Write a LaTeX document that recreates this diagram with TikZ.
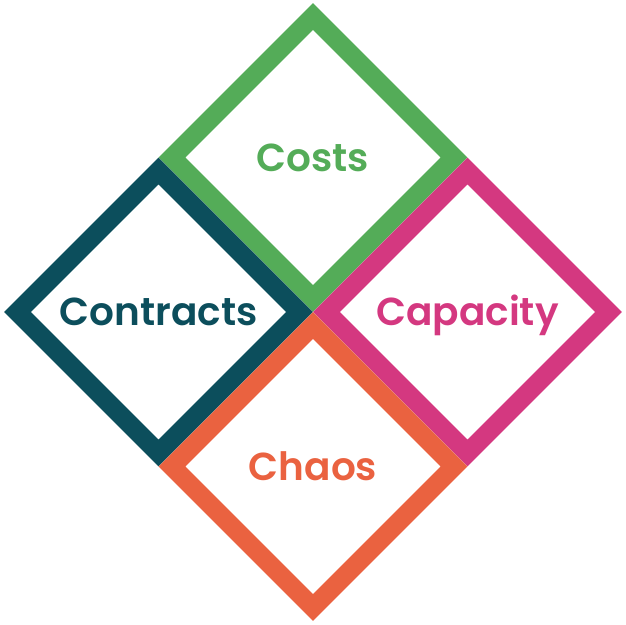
\documentclass[tikz,border=0pt]{standalone}
\usepackage{fontspec}
\newfontfamily\labelfont{Poppins SemiBold}
\usepackage{tikz}
\usetikzlibrary{shapes}

\definecolor{costgreen}{RGB}{84,172,88}
\definecolor{contractteal}{RGB}{12,78,92}
\definecolor{capacitypink}{RGB}{212,56,128}
\definecolor{chaosorange}{RGB}{234,98,64}

\begin{document}
\begin{tikzpicture}[
    quad/.style={diamond,aspect=1,draw=#1,text=#1,line width=19pt,
      inner sep=0pt,outer sep=0pt,minimum size=282pt,
      font=\labelfont\fontsize{39}{39}\selectfont,
      text height=27.3pt,text depth=0pt}]
  \useasboundingbox (-313pt,-312pt) rectangle (313pt,312pt);

  % four squares standing on a corner, touching along their edges
  \node[quad=costgreen]    (costs)     at (0pt,154.5pt)  {Costs};
  \node[quad=contractteal] (contracts) at (-154.5pt,0pt) {Contracts};
  \node[quad=capacitypink] (capacity)  at (154.5pt,0pt)  {Capacity};
  \node[quad=chaosorange]  (chaos)     at (0pt,-154.5pt) {Chaos};
\end{tikzpicture}
\end{document}
